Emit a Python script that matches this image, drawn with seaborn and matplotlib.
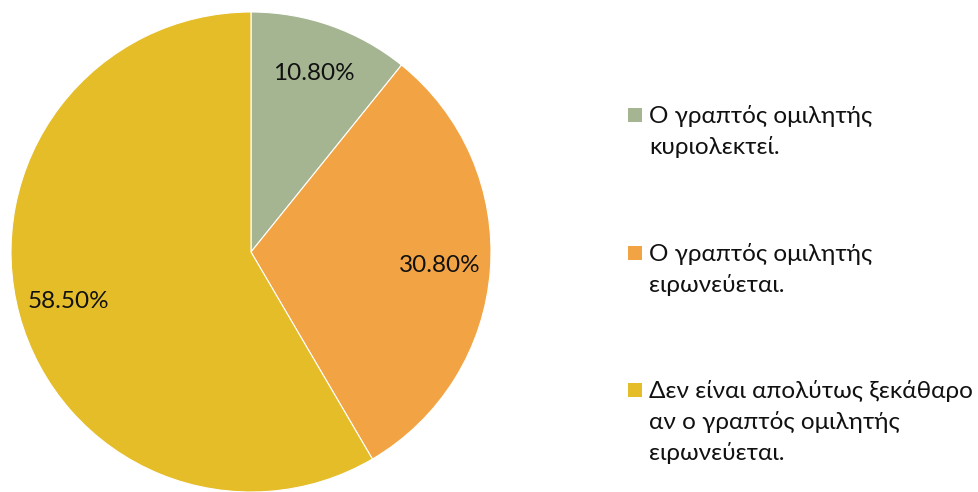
import matplotlib
matplotlib.use("Agg")
import matplotlib.pyplot as plt
from matplotlib.patches import Rectangle
import seaborn as sns

categories = [
    "Ο γραπτός ομιλητής\nκυριολεκτεί.",
    "Ο γραπτός ομιλητής\nειρωνεύεται.",
    "Δεν είναι απολύτως ξεκάθαρο\nαν ο γραπτός ομιλητής\nειρωνεύεται.",
]
values = [10.80, 30.80, 58.50]
colors = ["#A5B592", "#F2A444", "#E4BD29"]

sns.set_theme(style="white")
plt.rcParams["font.family"] = ["Lato", "Open Sans", "DejaVu Sans"]

W, H = 979, 492
fig = plt.figure(figsize=(W / 100, H / 100), dpi=100)
cx, cy, r = 251, 240, 240
ax = fig.add_axes([(cx - r) / W, (cy - r) / H, 2 * r / W, 2 * r / H])
wedges, texts, autotexts = ax.pie(
    values, colors=colors, startangle=90, counterclock=False,
    autopct="%1.2f%%", pctdistance=0.79,
    wedgeprops=dict(edgecolor="white", linewidth=0.8),
    textprops=dict(fontsize=17.5, color="#111111"),
)
for t, v in zip(autotexts, values):
    t.set_text(f"{v:.2f}%")
ax.set_xlim(-1, 1)
ax.set_ylim(-1, 1)
ax.set_aspect("equal")
ax.axis("off")

# legend drawn manually
first_line_y = [115, 253, 390]
for lab, col, y in zip(categories, colors, first_line_y):
    fig.patches.append(Rectangle((628 / W, 1 - (y + 7) / H), 14 / W, 14 / H,
                                 transform=fig.transFigure, facecolor=col,
                                 edgecolor="none"))
    fig.text(649 / W, 1 - (y - 10) / H, lab, fontsize=17.5, color="#111111",
             va="top", ha="left", linespacing=1.5)

fig.savefig("out.png", dpi=100)
